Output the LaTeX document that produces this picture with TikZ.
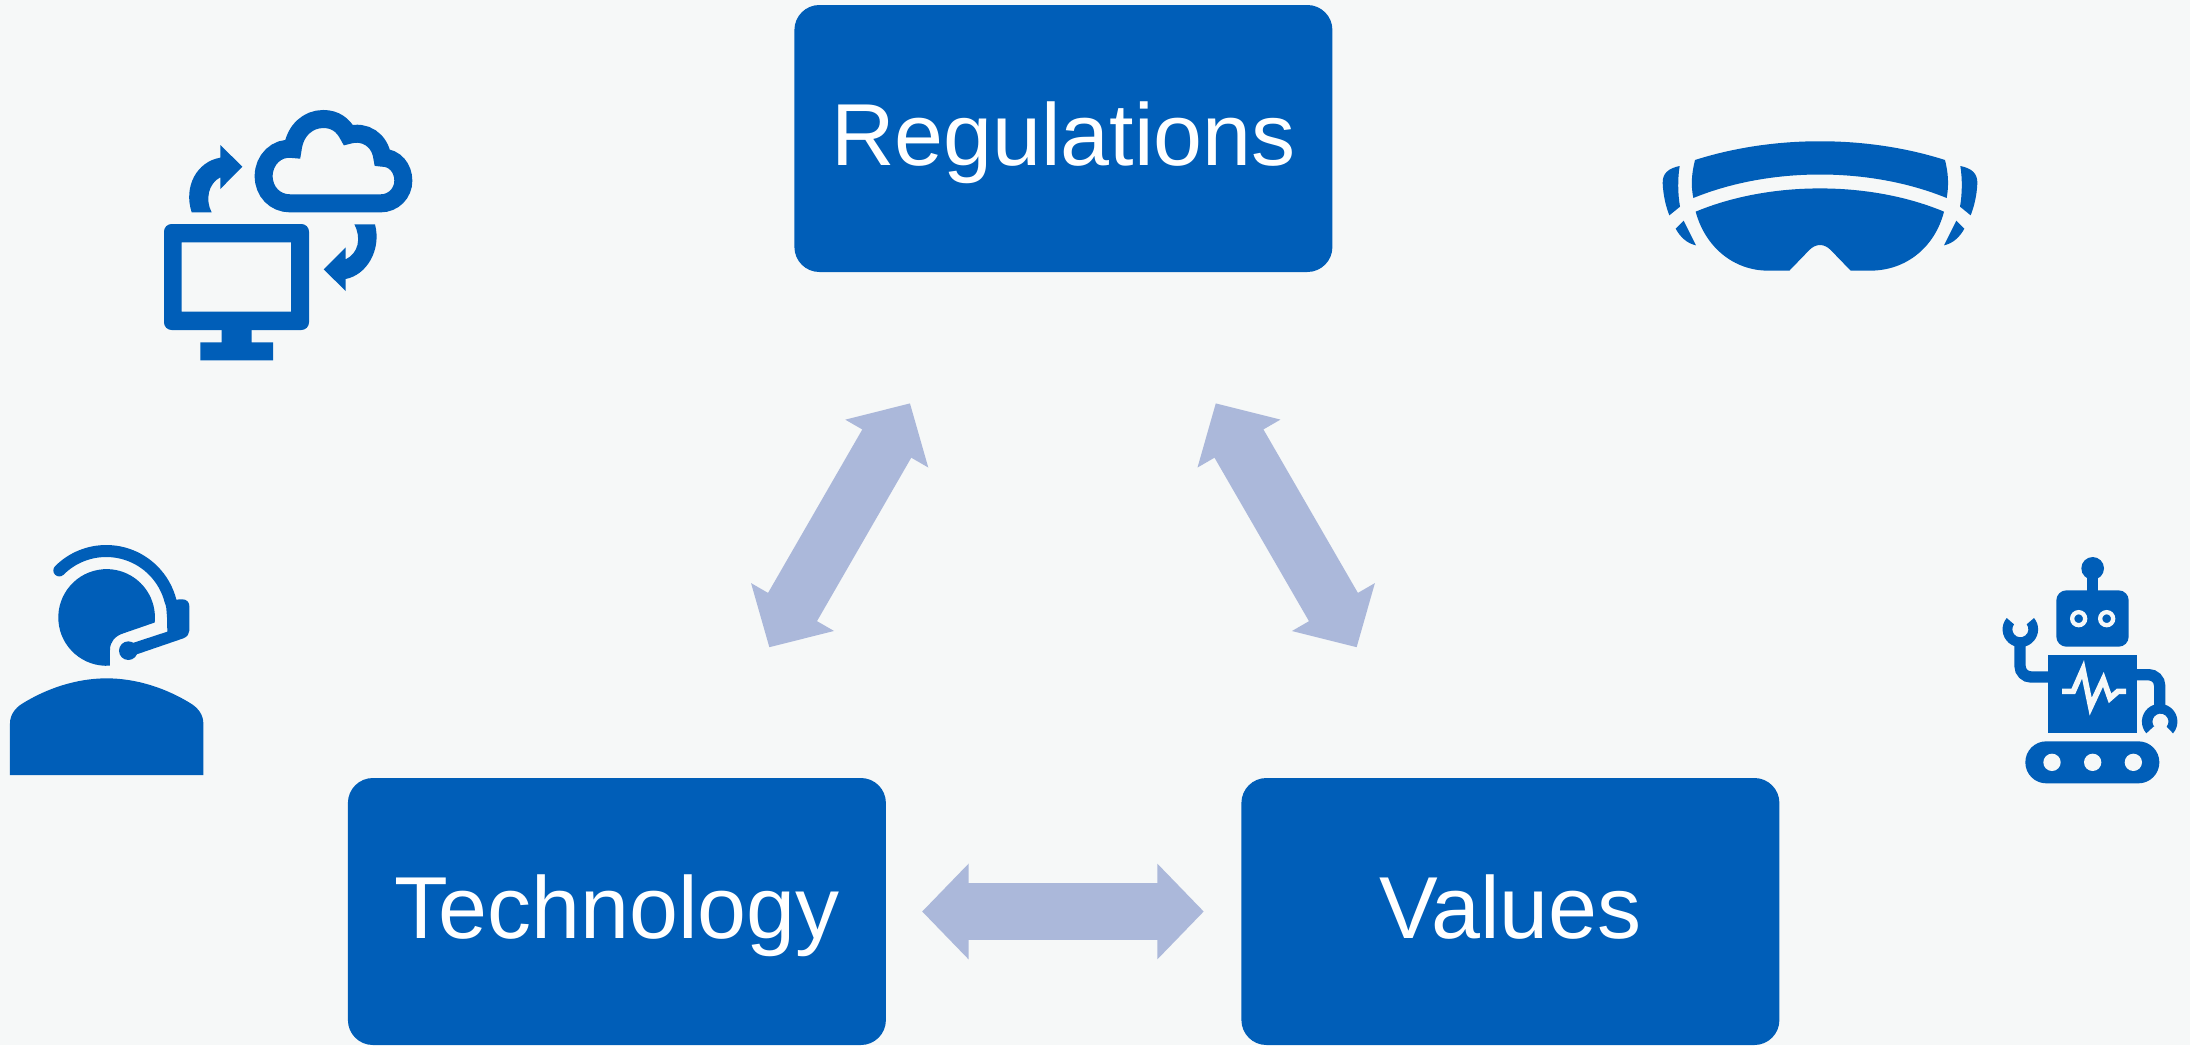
\documentclass[tikz,border=0pt]{standalone}
\usepackage{fontspec}
\setmainfont{Liberation Sans}
\usetikzlibrary{arrows.meta}
\definecolor{bg}{HTML}{F6F8F8}
\definecolor{nhs}{HTML}{005EB8}
\definecolor{arrowc}{HTML}{ABB8DA}
\tikzset{
  box/.style={fill=nhs,rounded corners=25pt,inner sep=0pt,minimum width=538pt,minimum height=267pt,
    text=white,font=\fontsize{88}{100}\selectfont,text height=54.4pt,text depth=0pt},
  biarrow/.style={draw=arrowc,line width=56.5pt,{Triangle[length=46.5pt,width=93pt,fill=arrowc]}-{Triangle[length=46.5pt,width=93pt,fill=arrowc]}},
  icon/.style={fill=nhs,even odd rule},
  iconline/.style={draw=nhs,fill=none},
  zoomA/.style={shift={(#1)},scale=1/3}
}
\begin{document}
\begin{tikzpicture}[x=1pt,y=-1pt]
\useasboundingbox (0,0) rectangle (2190,1045);
\fill[bg] (0,0) rectangle (2190,1045);
% boxes
\node[box] (reg) at (1063.4,138.5) {Regulations};
\node[box] (tech) at (616.9,911.5) {Technology};
\node[box] (val) at (1510.4,911.5) {Values};
% connectors
\coordinate (lt) at (910,403.3);
\coordinate (lb) at (769.3,647.3);
\coordinate (rt) at (1215.7,403.3);
\coordinate (rb) at (1356.7,647.3);
\draw[biarrow] (lb) -- (lt);
\draw[biarrow] (rt) -- (rb);
\draw[biarrow,shorten <=36pt,shorten >=37.4pt] (tech.east) -- (val.west);
% cloud and monitor icon
\begin{scope}[zoomA={130,90}]
\fill[icon] (102,425) .. controls (102,412) and (112,402) .. (125,402) -- (514,402) .. controls (527,402) and (537,412) .. (537,425) -- (537,697) .. controls (537,710) and (527,720) .. (514,720) -- (125,720) .. controls (112,720) and (102,710) .. (102,697) -- cycle
  (155,457) rectangle (483,665);
\fill[icon] (275,720) -- (365,720) -- (365,757) -- (429,757) -- (429,811) -- (211,811) -- (211,757) -- (275,757) -- cycle;
\draw[iconline,line width=18pt,line join=miter,miter limit=4] (480,340) .. controls (435,340) and (401,305) .. (401,258) .. controls (401,210) and (440,170) .. (488,177) .. controls (495,120) and (535,87) .. (580,87) .. controls (615,87) and (640,105) .. (655,135) .. controls (705,120) and (750,150) .. (757,203) .. controls (795,203) and (820,235) .. (820,272) .. controls (820,310) and (790,340) .. (752,340) -- cycle;
\fill[icon] (185,367) -- (245,367) .. controls (225,330) and (235,280) .. (271,262) -- (271,297) -- (337,230) -- (271,165) -- (271,203) .. controls (200,215) and (160,290) .. (185,367) -- cycle;
\fill[icon] (673,403) -- (735,403) .. controls (755,480) and (710,555) .. (647,567) -- (647,603) -- (581,538) -- (647,472) -- (647,508) .. controls (685,490) and (695,445) .. (673,403) -- cycle;
\end{scope}
% agent icon
\begin{scope}[zoomA={0,520}]
\fill[icon] (330,437) arc[start angle=86,end angle=366,radius=145] -- (370,340) .. controls (345,348) and (330,365) .. (330,390) -- cycle;
\draw[iconline,line width=12pt,line cap=round] (178.0,151.3) arc[start angle=225,end angle=346,radius=199];
\fill[icon] (494,240) -- (499,265) -- (501,292) -- (502,335) -- (395,370) -- (410,403) -- (550,355) .. controls (562,350) and (568,342) .. (568,332) -- (568,258) .. controls (568,247) and (560,238) .. (548,238) -- cycle;
\fill[icon] (385,392) circle[radius=28];
\fill[icon] (30,765) -- (30,610) .. controls (30,585) and (45,565) .. (65,552) .. controls (140,505) and (230,475) .. (320,475) .. controls (410,475) and (500,505) .. (575,552) .. controls (595,565) and (610,585) .. (610,610) -- (610,765) -- cycle;
\end{scope}
% headset icon
\begin{scope}[zoomA={1640,120}]
\fill[icon] (165,120) .. controls (400,45) and (680,45) .. (915,120) .. controls (925,160) and (927,195) .. (920,234) .. controls (690,140) and (390,140) .. (160,234) .. controls (152,195) and (155,160) .. (165,120) -- cycle;
\fill[icon] (167,275) .. controls (390,182) and (690,182) .. (912,275) .. controls (885,380) and (800,452) .. (690,452) -- (632,452) -- (572,390) .. controls (552,370) and (528,370) .. (508,390) -- (448,452) -- (385,452) .. controls (280,452) and (195,380) .. (167,275) -- cycle;
\fill[icon] (119,138) .. controls (85,145) and (67,160) .. (68,190) .. controls (70,230) and (78,260) .. (88,286) -- (120,260) .. controls (113,220) and (113,175) .. (119,138) -- cycle;
\fill[icon] (131,302) -- (107,326) .. controls (120,350) and (140,370) .. (168,376) -- cycle;
\end{scope}
\begin{scope}[shift={(2000,120)},xscale=-1/3,yscale=1/3]
\fill[icon] (119,138) .. controls (85,145) and (67,160) .. (68,190) .. controls (70,230) and (78,260) .. (88,286) -- (120,260) .. controls (113,220) and (113,175) .. (119,138) -- cycle;
\fill[icon] (131,302) -- (107,326) .. controls (120,350) and (140,370) .. (168,376) -- cycle;
\end{scope}
% robot icon
\begin{scope}[zoomA={1990,540}]
\fill[icon] (308,85) circle[radius=34];
\fill[icon] (292,85) rectangle (325,160);
\fill[nhs,rounded corners=10pt] (199,151) rectangle (416,320);
\foreach \ex in {266,350}{
  \draw[draw=bg,fill=nhs,line width=4.3pt] (\ex,236) circle[radius=19.5];
}
\fill[icon] (174,345) rectangle (442,580);
\draw[draw=bg,line width=5.6pt,miter limit=10] (216,454) -- (250,454) -- (279,388) -- (302,500) -- (340,418) -- (360,475) -- (384,454) -- (408,454);
\draw[iconline,line width=11.3pt,rounded corners=11pt] (180,411) -- (90,411) -- (90,300);
\draw[iconline,line width=11.3pt,rounded corners=11pt] (436,404) -- (509,404) -- (509,510);
\fill[icon] (72,253) -- (50,234) arc[start angle=219.7,end angle=-39.7,radius=53.3] -- (110,253) arc[start angle=-38,end angle=218,radius=24] -- cycle;
\fill[icon] (490.4,560) -- (468.9,580) arc[start angle=138.7,end angle=401.3,radius=53.3] -- (530,560) arc[start angle=39,end angle=-219,radius=24] -- cycle;
\fill[nhs,rounded corners=20.9pt] (106,604) rectangle (508,730);
\foreach \hx in {186,308,430}{
  \fill[bg] (\hx,667) circle[radius=26];
}
\end{scope}
\end{tikzpicture}
\end{document}
